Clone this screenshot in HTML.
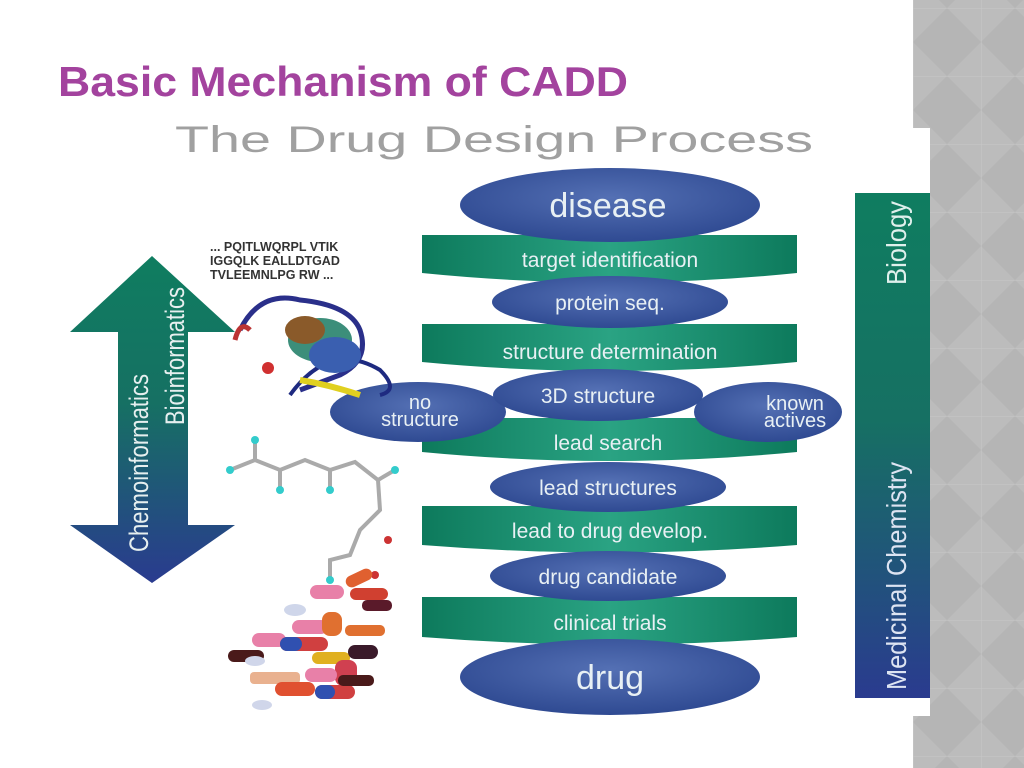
<!DOCTYPE html>
<html><head><meta charset="utf-8"><style>
html,body{margin:0;padding:0;width:1024px;height:768px;overflow:hidden;background:#fff;font-family:"Liberation Sans",sans-serif}
</style></head><body>
<svg width="1024" height="768" viewBox="0 0 1024 768" xmlns="http://www.w3.org/2000/svg" font-family="Liberation Sans, sans-serif">
<defs>
<pattern id="dia" width="68" height="68" patternUnits="userSpaceOnUse" x="913" y="8">
<rect width="68" height="68" fill="#bcbcbc"/>
<path d="M34 0 L68 34 L34 68 L0 34Z" fill="#b5b5b5"/>
<line x1="0" y1="0" x2="68" y2="0" stroke="#c8c8c8" stroke-width="1"/>
<line x1="0" y1="0" x2="0" y2="68" stroke="#c8c8c8" stroke-width="1"/>
</pattern>
<radialGradient id="ell" cx="50%" cy="40%" r="60%">
<stop offset="0" stop-color="#5470b4"/><stop offset="1" stop-color="#2f4a92"/></radialGradient>
<linearGradient id="bar" x1="0" x2="1" y1="0" y2="0">
<stop offset="0" stop-color="#0d7a5c"/><stop offset="0.5" stop-color="#2aa383"/><stop offset="1" stop-color="#0d7a5c"/></linearGradient>
<linearGradient id="vg" x1="0" x2="0" y1="0" y2="1">
<stop offset="0" stop-color="#0f7d60"/><stop offset="0.45" stop-color="#167063"/><stop offset="1" stop-color="#2a3b8f"/></linearGradient>
</defs>
<rect x="913" y="0" width="111" height="768" fill="url(#dia)"/>
<rect x="170" y="128" width="760" height="588" fill="#fff"/>
<text x="58" y="96" font-size="42" font-weight="bold" fill="#a3439e" textLength="570" lengthAdjust="spacingAndGlyphs">Basic Mechanism of CADD</text>
<text x="175" y="152" font-size="37" fill="#a0a0a0" textLength="638" lengthAdjust="spacingAndGlyphs">The Drug Design Process</text>

<g fill="url(#bar)">
<path d="M422 235 L797 235 L797 273 Q610 292 422 273Z"/>
<path d="M422 324 L797 324 L797 362 Q610 380 422 362Z"/>
<path d="M422 418 L797 418 L797 452 Q610 470 422 452Z"/>
<path d="M422 506 L797 506 L797 545 Q610 560 422 545Z"/>
<path d="M422 597 L797 597 L797 637 Q610 652 422 637Z"/>
</g>
<g fill="url(#ell)">
<ellipse cx="610" cy="205" rx="150" ry="37"/>
<ellipse cx="610" cy="302" rx="118" ry="26"/>
<ellipse cx="418" cy="412" rx="88" ry="30"/>
<ellipse cx="768" cy="412" rx="74" ry="30"/>
<ellipse cx="598" cy="395" rx="105" ry="26"/>
<ellipse cx="608" cy="487" rx="118" ry="25"/>
<ellipse cx="608" cy="576" rx="118" ry="25"/>
<ellipse cx="610" cy="677" rx="150" ry="38"/>
</g>
<g fill="#e8f0f4" text-anchor="middle">
<text x="608" y="217" font-size="34">disease</text>
<text x="610" y="267" font-size="21">target identification</text>
<text x="610" y="310" font-size="21">protein seq.</text>
<text x="610" y="359" font-size="21">structure determination</text>
<text x="598" y="403" font-size="21">3D structure</text>
<text x="420" y="409" font-size="20">no</text>
<text x="420" y="426" font-size="20">structure</text>
<text x="795" y="410" font-size="20">known</text>
<text x="795" y="427" font-size="20">actives</text>
<text x="608" y="450" font-size="21">lead search</text>
<text x="608" y="495" font-size="21">lead structures</text>
<text x="610" y="538" font-size="21">lead to drug develop.</text>
<text x="608" y="584" font-size="21">drug candidate</text>
<text x="610" y="630" font-size="21">clinical trials</text>
<text x="610" y="689" font-size="34">drug</text>
</g>

<rect x="855" y="193" width="75" height="505" fill="url(#vg)"/>
<text transform="translate(906,285) rotate(-90)" font-size="28" fill="#dff0ec" textLength="84" lengthAdjust="spacingAndGlyphs">Biology</text>
<text transform="translate(906,690) rotate(-90)" font-size="28" fill="#dde4f2" textLength="228" lengthAdjust="spacingAndGlyphs">Medicinal Chemistry</text>

<path d="M152 256 L235 332 L188 332 L188 525 L235 525 L152 583 L70 525 L118 525 L118 332 L70 332Z" fill="url(#vg)"/>
<text transform="translate(148,552) rotate(-90)" font-size="27" fill="#e6efef" textLength="178" lengthAdjust="spacingAndGlyphs">Chemoinformatics</text>
<text transform="translate(184,425) rotate(-90)" font-size="27" fill="#e6efef" textLength="138" lengthAdjust="spacingAndGlyphs">Bioinformatics</text>

<g font-size="12.5" fill="#333" font-weight="bold">
<text x="210" y="251">... PQITLWQRPL VTIK</text>
<text x="210" y="265">IGGQLK EALLDTGAD</text>
<text x="210" y="279">TVLEEMNLPG RW ...</text>
</g>

<g>
<path d="M240 330 Q260 290 300 300 Q350 305 360 330 Q370 360 340 375 L300 390" stroke="#2a2f8a" stroke-width="5" fill="none"/>
<path d="M290 395 Q330 340 380 370 Q400 390 380 395" stroke="#1e2a80" stroke-width="4" fill="none"/>
<ellipse cx="320" cy="340" rx="32" ry="22" fill="#3c8e7a"/>
<ellipse cx="335" cy="355" rx="26" ry="18" fill="#3a5fb0"/>
<ellipse cx="305" cy="330" rx="20" ry="14" fill="#8a5a2a"/>
<path d="M300 380 Q330 385 360 395" stroke="#e0d020" stroke-width="6" fill="none"/>
<circle cx="268" cy="368" r="6" fill="#d03030"/>
<path d="M235 340 Q240 320 250 330" stroke="#b33" stroke-width="5" fill="none"/>
</g>
<g stroke="#aaa" stroke-width="4" fill="none">
<path d="M230 470 L255 460 L280 470 L305 460 L330 470 L355 462 L378 480 L380 510 L360 530 L350 555 L330 560 L330 580"/>
<path d="M255 460 L255 440 M280 470 L280 490 M330 470 L330 490 M378 480 L395 470"/>
</g>
<g fill="#3cc">
<circle cx="230" cy="470" r="4"/><circle cx="255" cy="440" r="4"/><circle cx="280" cy="490" r="4"/><circle cx="330" cy="490" r="4"/><circle cx="395" cy="470" r="4"/><circle cx="330" cy="580" r="4"/>
</g>
<circle cx="388" cy="540" r="4" fill="#c33"/><circle cx="375" cy="575" r="4" fill="#c33"/>

<g>
<rect x="345" y="572" width="28" height="12" rx="6" fill="#e06030" transform="rotate(-25 359 578)"/>
<rect x="310" y="585" width="34" height="14" rx="7" fill="#e880a8"/>
<rect x="350" y="588" width="38" height="12" rx="6" fill="#d04030"/>
<rect x="362" y="600" width="30" height="11" rx="5" fill="#5a1a2a"/>
<rect x="292" y="620" width="36" height="14" rx="7" fill="#e880a8"/>
<rect x="322" y="612" width="20" height="24" rx="8" fill="#e07030"/>
<rect x="345" y="625" width="40" height="11" rx="5" fill="#e07030"/>
<rect x="252" y="633" width="34" height="14" rx="7" fill="#e880a8"/>
<rect x="280" y="637" width="48" height="14" rx="7" fill="#d04040"/>
<rect x="280" y="637" width="22" height="14" rx="7" fill="#3050b0"/>
<rect x="228" y="650" width="36" height="12" rx="6" fill="#4a1a1a"/>
<rect x="312" y="652" width="38" height="12" rx="6" fill="#e0b020"/>
<rect x="348" y="645" width="30" height="14" rx="7" fill="#3a1a2a"/>
<rect x="335" y="660" width="22" height="26" rx="8" fill="#d04050"/>
<rect x="305" y="668" width="32" height="14" rx="7" fill="#e880a8"/>
<rect x="250" y="672" width="50" height="12" rx="4" fill="#e09060" opacity="0.7"/>
<rect x="275" y="682" width="40" height="14" rx="7" fill="#e05030"/>
<rect x="315" y="685" width="40" height="14" rx="7" fill="#d04040"/>
<rect x="315" y="685" width="20" height="14" rx="7" fill="#3050b0"/>
<rect x="338" y="675" width="36" height="11" rx="5" fill="#4a1a1a"/>
<ellipse cx="295" cy="610" rx="11" ry="6" fill="#cfd6ea"/>
<ellipse cx="255" cy="661" rx="10" ry="5" fill="#d0d6ea"/>
<ellipse cx="262" cy="705" rx="10" ry="5" fill="#d0d6ea"/>
</g>
</svg>
</body></html>
